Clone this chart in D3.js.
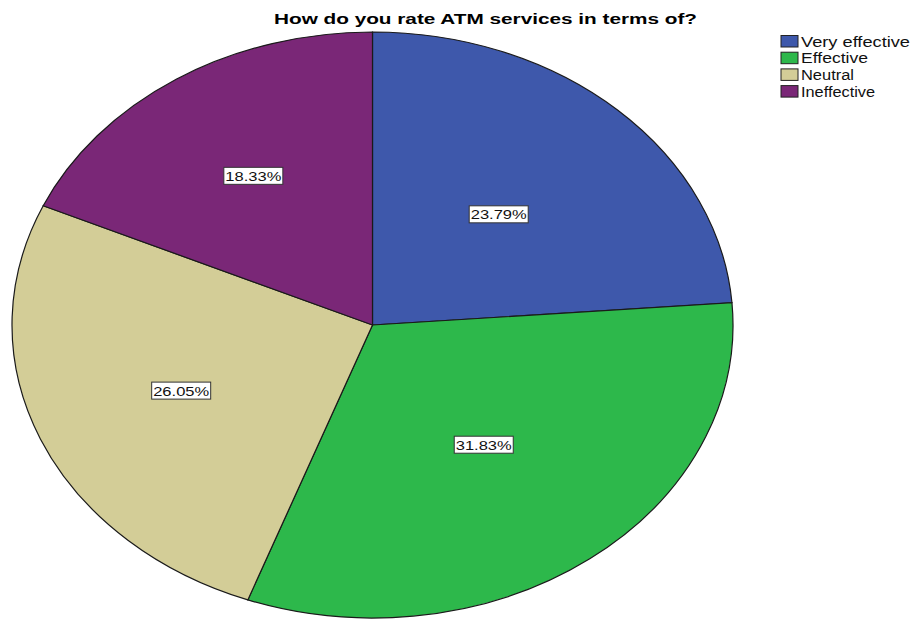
<!DOCTYPE html>
<html>
<head>
<meta charset="utf-8">
<script src="https://cdn.jsdelivr.net/npm/d3@7"></script>
<style>
  html, body { margin: 0; padding: 0; background: #fff; }
  svg { display: block; font-family: "Liberation Sans", Arial, sans-serif; }
</style>
</head>
<body>
<svg id="chart" width="913" height="619"></svg>
<script>
// Response categories, share of respondents (%) and slice colours
const categories = ["Very effective", "Effective", "Neutral", "Ineffective"];
const percents = [23.79, 31.83, 26.05, 18.33];
const colors = ["#3e58ab", "#2db84b", "#d3cd97", "#7a2777"];
const title = "How do you rate ATM services in terms of?";

const svg = d3.select("#chart");

// Pie is drawn on a circle and squashed vertically into an ellipse
const cx = 372.5, cy = 325, rx = 360.5, ry = 293;
const yScale = ry / rx;

const data = categories.map((c, i) => ({ name: c, value: percents[i], color: colors[i] }));

const pie = d3.pie().sort(null).value(d => d.value);
const arcs = pie(data);
const arc = d3.arc().innerRadius(0).outerRadius(rx);

const pieG = svg.append("g")
  .attr("transform", `translate(${cx},${cy}) scale(1,${yScale})`);

pieG.selectAll("path")
  .data(arcs)
  .enter().append("path")
  .attr("d", arc)
  .attr("fill", d => d.data.color)
  .attr("stroke", "#1a1a1a")
  .attr("stroke-width", 1.2)
  .attr("vector-effect", "non-scaling-stroke");

// Percentage labels in boxed white tags, placed along each slice's mid-angle
const labelRadius = [0.515, 0.512, 0.576, 0.607];
const fmt = v => v.toFixed(2) + "%";
const labelG = svg.append("g");
arcs.forEach((a, i) => {
  const r = rx * labelRadius[i];
  const [lx, ly] = d3.arc().innerRadius(r).outerRadius(r).centroid(a);
  const x = cx + lx, y = cy + ly * yScale;
  const g = labelG.append("g").attr("transform", `translate(${x},${y})`);
  g.append("rect")
    .attr("x", -29.5).attr("y", -8.5)
    .attr("width", 59).attr("height", 17)
    .attr("fill", "#fff")
    .attr("stroke", "#333")
    .attr("stroke-width", 1);
  g.append("text")
    .attr("x", 0).attr("y", 5)
    .attr("text-anchor", "middle")
    .attr("font-size", 13.5)
    .attr("textLength", 56)
    .attr("lengthAdjust", "spacingAndGlyphs")
    .attr("fill", "#111")
    .text(fmt(a.data.value));
});

// Title
svg.append("text")
  .attr("x", 274).attr("y", 24)
  .attr("font-size", 14.5)
  .attr("font-weight", "bold")
  .attr("textLength", 423)
  .attr("lengthAdjust", "spacingAndGlyphs")
  .attr("fill", "#000")
  .text(title);

// Legend
const legendWidths = [109, 67, 53, 74];
const legend = svg.append("g").attr("transform", "translate(781,35.5)");
const rowH = 16.7;
categories.forEach((c, i) => {
  const row = legend.append("g").attr("transform", `translate(0,${i * rowH})`);
  row.append("rect")
    .attr("x", 0).attr("y", 0)
    .attr("width", 17).attr("height", 11.5)
    .attr("fill", colors[i])
    .attr("stroke", "#222")
    .attr("stroke-width", 1);
  row.append("text")
    .attr("x", 20).attr("y", 11)
    .attr("font-size", 14)
    .attr("textLength", legendWidths[i])
    .attr("lengthAdjust", "spacingAndGlyphs")
    .attr("fill", "#111")
    .text(c);
});
</script>
</body>
</html>
